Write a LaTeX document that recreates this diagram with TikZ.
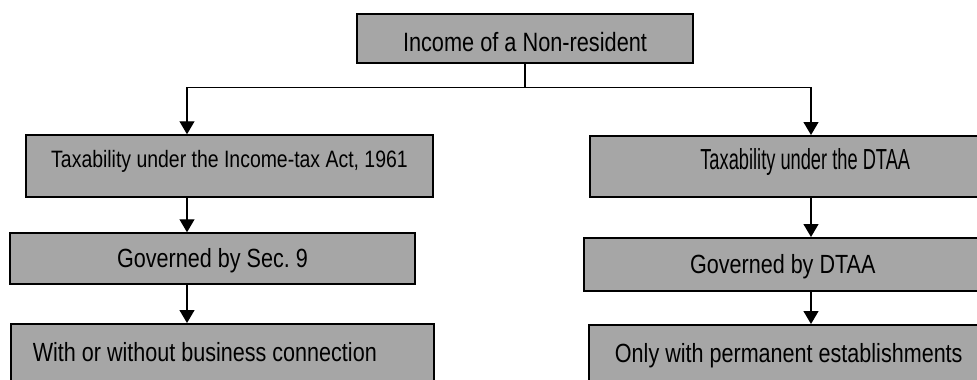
\documentclass[tikz,border=0pt]{standalone}
\usepackage{fontspec}
\setmainfont{Liberation Sans}[FakeStretch=0.82]
\newfontfamily\tightfont{Liberation Sans}[FakeStretch=0.63]
\usetikzlibrary{arrows.meta}
\definecolor{boxgray}{RGB}{166,166,166}
\newcommand\boxfont[1]{\fontsize{#1}{#1}\selectfont\spaceskip=0.228em\xspaceskip=0.228em\relax}
\newcommand\tightboxfont[1]{\tightfont\fontsize{#1}{#1}\selectfont\spaceskip=0.175em\xspaceskip=0.175em\relax}
\tikzset{
  box/.style={draw=black, line width=1.5pt, fill=boxgray, inner sep=0pt,
    font=\boxfont{26.3}, text height=18.8pt, text depth=0pt},
  link/.style={line width=1.3pt},
  flow/.style={link, -{Triangle[length=13pt,width=15pt]}}
}
\begin{document}
\begin{tikzpicture}[x=1pt, y=-1pt]
    \useasboundingbox (0,0) rectangle (977,380);
    \clip (0,0) rectangle (977,380);

    \node[box, minimum width=336pt, minimum height=49pt,
      font=\boxfont{26.5}, text height=25pt] (top) at (525,38.5) {Income of a Non-resident};

    \begin{scope}
      \node[box, minimum width=407pt, minimum height=62pt,
        font=\boxfont{23.7}, text height=17pt, text depth=14pt] (ltax) at (229.5,166) {Taxability under the Income-tax Act, 1961};
      \node[box, minimum width=405pt, minimum height=51pt] (lsec) at (212.5,258.5) {Governed by Sec. 9};
      \node[box, anchor=north west, inner xsep=22pt,
        minimum height=62pt, text depth=6pt] (lbus) at (10,323) {\makebox[379pt][l]{With or without business connection}};
    \end{scope}

    \begin{scope}
      \node[box, anchor=north west, minimum width=431pt, minimum height=61pt,
        font=\tightboxfont{29}, text height=20.8pt, text depth=14pt] (rtax) at (589,135) {Taxability under the DTAA};
      \node[box, anchor=north west, minimum width=398pt, minimum height=53pt] (rgov) at (583,237) {Governed by DTAA};
      \node[box, anchor=north west, minimum width=400pt, minimum height=62pt,
        text depth=6pt] (rper) at (588,324) {Only with permanent establishments};
    \end{scope}

    \coordinate (lcol) at (187,0);
    \coordinate (rcol) at (811,0);
    \draw[link] (top.south) -- ++(0,24) coordinate (fork);
    \draw[flow] (fork) -| (lcol |- ltax.north);
    \draw[flow] (fork) -| (rcol |- rtax.north);
    \draw[flow] (lcol |- ltax.south) -- (lcol |- lsec.north);
    \draw[flow] (lcol |- lsec.south) -- (lcol |- lbus.north);
    \draw[flow] (rcol |- rtax.south) -- (rcol |- rgov.north);
    \draw[flow] (rcol |- rgov.south) -- (rcol |- rper.north);
  \end{tikzpicture}
\end{document}
